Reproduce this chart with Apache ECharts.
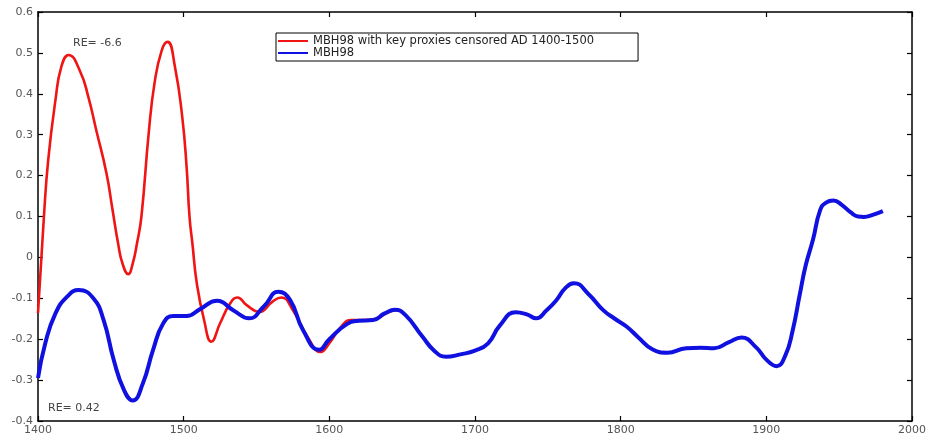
<!DOCTYPE html>
<html>
<head>
<meta charset="utf-8">
<script src="https://cdn.jsdelivr.net/npm/echarts@6/dist/echarts.min.js"></script>
<style>
html,body{margin:0;padding:0;background:#ffffff;}
#chart{width:929px;height:437px;}
</style>
</head>
<body>
<div id="chart"></div>
<script>
// ---- data ----
const xTicks = [1400, 1500, 1600, 1700, 1800, 1900, 2000];
const yTicks = [-0.4, -0.3, -0.2, -0.1, 0, 0.1, 0.2, 0.3, 0.4, 0.5, 0.6];

const seriesNames = ['MBH98 with key proxies censored AD 1400-1500', 'MBH98'];
const annotations = ['RE= -6.6', 'RE= 0.42'];

const redYears = [1400, 1404, 1407, 1412, 1416, 1421, 1429, 1434.5, 1440, 1447, 1451, 1455, 1458, 1462, 1465, 1468, 1471,
  1476, 1480, 1485, 1489, 1494, 1499, 1502, 1504, 1506, 1509, 1514, 1519, 1525, 1532, 1537, 1543, 1552,
  1561, 1567, 1575, 1585, 1594, 1600, 1608, 1615, 1625, 1632, 1640, 1646];
const redValues = [-0.136, 0.096, 0.238, 0.385, 0.466, 0.495, 0.454, 0.393, 0.311, 0.206, 0.12, 0.034, -0.015, -0.041, -0.015, 0.035, 0.1,
  0.304, 0.426, 0.507, 0.527, 0.466, 0.344, 0.222, 0.1, 0.034, -0.063, -0.153, -0.206, -0.161, -0.112, -0.098, -0.116, -0.133,
  -0.108, -0.098, -0.129, -0.194, -0.231, -0.21, -0.17, -0.153, -0.153, -0.15, -0.135, -0.128];

const blueYears = [1400, 1405, 1412, 1420, 1428, 1438, 1445, 1452, 1459, 1465, 1472, 1479, 1486, 1493, 1502,
  1511, 1523, 1534, 1545, 1555, 1565, 1573, 1582, 1593, 1600, 1612, 1620, 1630, 1638, 1645, 1652, 1664,
  1672, 1680, 1690, 1700, 1709, 1717, 1728, 1736, 1742, 1749, 1756, 1762, 1768, 1778, 1788, 1796, 1804,
  1812, 1822, 1832, 1845, 1855, 1864, 1874, 1883, 1893, 1900, 1907, 1913, 1918, 1923, 1927, 1932, 1937,
  1941, 1946, 1952, 1958, 1963, 1967, 1973, 1980];
const blueValues = [-0.295, -0.21, -0.137, -0.096, -0.08, -0.1, -0.153, -0.251, -0.324, -0.35, -0.308, -0.226, -0.161, -0.143, -0.143,
  -0.127, -0.106, -0.129, -0.149, -0.12, -0.084, -0.104, -0.178, -0.226, -0.2, -0.163, -0.155, -0.153, -0.137, -0.128, -0.14, -0.194,
  -0.228, -0.243, -0.237, -0.228, -0.21, -0.167, -0.134, -0.14, -0.149, -0.13, -0.104, -0.075, -0.063, -0.09, -0.129, -0.15, -0.169,
  -0.195, -0.225, -0.233, -0.222, -0.221, -0.222, -0.208, -0.196, -0.22, -0.25, -0.266, -0.24, -0.18, -0.09, -0.02, 0.043, 0.116,
  0.134, 0.139, 0.128, 0.11, 0.1, 0.099, 0.104, 0.113];

// ---- build the chart ----
const zip = (xs, ys) => xs.map((x, i) => [x, ys[i]]);
const xMin = xTicks[0], xMax = xTicks[xTicks.length - 1], xStep = xTicks[1] - xTicks[0];
const yMin = yTicks[0], yMax = yTicks[yTicks.length - 1], yStep = 0.1;

const labelStyle = { color: '#555', fontFamily: 'DejaVu Sans', fontSize: 11 };
const lineStyleAxis = { color: '#000', width: 1.5 };
const tickIn = { show: true, inside: true, length: 5, lineStyle: { color: '#000', width: 1.2 } };

const chart = echarts.init(document.getElementById('chart'), null, { renderer: 'canvas' });
chart.setOption({
  animation: false,
  backgroundColor: '#ffffff',
  grid: { left: 38, right: 17, top: 12, bottom: 16, containLabel: false },
  legend: {
    show: true,
    left: 276, top: 33,
    orient: 'vertical',
    itemGap: 0,
    itemWidth: 30, itemHeight: 2,
    padding: [2, 44, 2, 2],
    borderColor: '#000', borderWidth: 1,
    backgroundColor: '#fff',
    textStyle: { color: '#222', fontFamily: 'DejaVu Sans', fontSize: 11.5, lineHeight: 9 },
    data: [
      { name: seriesNames[0], icon: 'rect', itemStyle: { color: '#f01414' } },
      { name: seriesNames[1], icon: 'rect', itemStyle: { color: '#1010e0' } }
    ]
  },
  xAxis: [
    { type: 'value', position: 'bottom', min: xMin, max: xMax, interval: xStep,
      axisLine: { show: true, onZero: false, lineStyle: lineStyleAxis },
      axisTick: tickIn, splitLine: { show: false },
      axisLabel: Object.assign({ margin: 4, formatter: v => String(v) }, labelStyle) },
    { type: 'value', position: 'top', min: xMin, max: xMax, interval: xStep,
      axisLine: { show: true, onZero: false, lineStyle: lineStyleAxis },
      axisTick: tickIn, splitLine: { show: false }, axisLabel: { show: false } }
  ],
  yAxis: [
    { type: 'value', position: 'left', min: yMin, max: yMax, interval: yStep,
      axisLine: { show: true, onZero: false, lineStyle: lineStyleAxis },
      axisTick: tickIn, splitLine: { show: false },
      axisLabel: Object.assign({ margin: 5, formatter: v => String(Math.round(v * 10) / 10) }, labelStyle) },
    { type: 'value', position: 'right', min: yMin, max: yMax, interval: yStep,
      axisLine: { show: true, onZero: false, lineStyle: lineStyleAxis },
      axisTick: tickIn, splitLine: { show: false }, axisLabel: { show: false } }
  ],
  series: [
    { name: seriesNames[0], type: 'line', xAxisIndex: 0, yAxisIndex: 0,
      data: zip(redYears, redValues), smooth: 0.5, showSymbol: false, symbol: 'none',
      lineStyle: { color: '#f01414', width: 2.6 }, itemStyle: { color: '#f01414' }, z: 2 },
    { name: seriesNames[1], type: 'line', xAxisIndex: 0, yAxisIndex: 0,
      data: zip(blueYears, blueValues), smooth: 0.5, showSymbol: false, symbol: 'none',
      lineStyle: { color: '#1010e0', width: 4 }, itemStyle: { color: '#1010e0' }, z: 3 }
  ],
  graphic: [
    { type: 'text', left: 73, top: 38, style: { text: annotations[0], fill: '#444', font: '11px "DejaVu Sans"' } },
    { type: 'text', left: 48, top: 403, style: { text: annotations[1], fill: '#444', font: '11px "DejaVu Sans"' } }
  ]
});
</script>
</body>
</html>
